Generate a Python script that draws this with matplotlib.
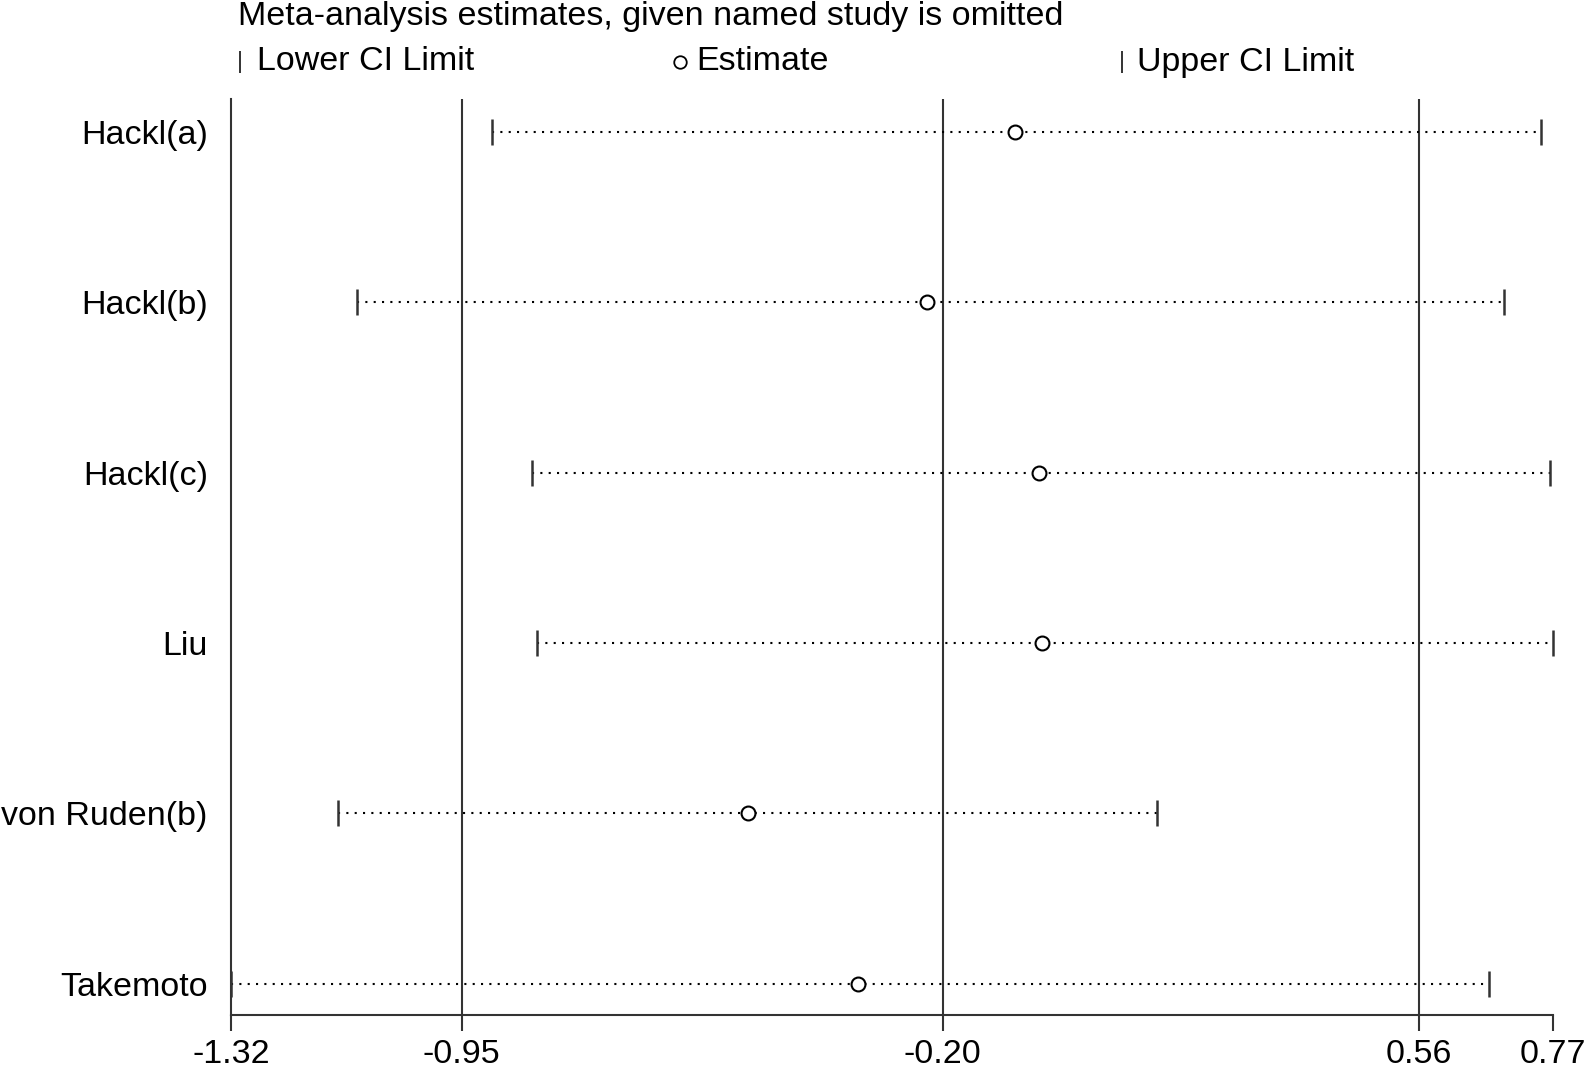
import numpy as np
import matplotlib.pyplot as plt
from matplotlib.lines import Line2D

plt.rcParams['font.family'] = ['Liberation Sans', 'DejaVu Sans']

studies = ['Hackl(a)', 'Hackl(b)', 'Hackl(c)', 'Liu', 'von Ruden(b)', 'Takemoto']
estimate = [-0.081, -0.219, -0.042, -0.038, -0.503, -0.329]
lower = [-0.908, -1.122, -0.844, -0.837, -1.151, -1.32]
upper = [0.752, 0.693, 0.766, 0.77, 0.144, 0.670]
# unrounded positions of the reference lines / ticks
ref_lines = [-0.956, -0.195, 0.559]
xticks = [-1.32, -0.956, -0.195, 0.559, 0.77]
xtick_labels = ['-1.32', '-0.95', '-0.20', '0.56', '0.77']

fs = 24.5
dark = '#333333'

fig = plt.figure(figsize=(15.94, 10.68), dpi=100)
ax = fig.add_axes([0.1452, 0.050, 0.974 - 0.1452, 0.907 - 0.050])

for x in ref_lines:
    ax.axvline(x, color=dark, lw=1.5, zorder=1)

y = np.arange(len(studies))
for i in range(len(studies)):
    ax.plot([lower[i], upper[i]], [y[i], y[i]], color='black', lw=1.5,
            linestyle=(0, (1, 3)), zorder=2)
    ax.plot([lower[i], upper[i]], [y[i], y[i]], linestyle='none', marker='|',
            markersize=19, mew=1.8, color=dark, clip_on=False, zorder=3)
    ax.plot(estimate[i], y[i], marker='o', markersize=10, mfc='white',
            mec='black', mew=1.5, linestyle='none', zorder=4)

ax.set_xlim(-1.32, 0.77)
ax.set_ylim(5.18, -0.19)
ax.set_xticks(xticks)
ax.set_xticklabels(xtick_labels, fontsize=fs)
ax.set_yticks(y)
ax.set_yticklabels(studies, fontsize=fs)
ax.tick_params(axis='y', length=0, pad=17)
ax.tick_params(axis='x', length=11.5, width=1.5, color=dark, pad=6)
for s in ['top', 'right']:
    ax.spines[s].set_visible(False)
for s in ['left', 'bottom']:
    ax.spines[s].set_color(dark)
    ax.spines[s].set_linewidth(1.5)

# header and legend row
fig.text(238 / 1594, 1 - 16 / 1068, 'Meta-analysis estimates, given named study is omitted',
         fontsize=fs, va='center', ha='left')
ly = 1 - 62 / 1068
fig.add_artist(Line2D([240 / 1594], [ly], marker='|', markersize=16, mew=1.4,
                      color=dark, linestyle='none'))
fig.text(257 / 1594, ly, 'Lower CI Limit', fontsize=fs, va='center', ha='left')
fig.add_artist(Line2D([680 / 1594], [ly], marker='o', markersize=9, mfc='white',
                      mec='black', mew=1.3, linestyle='none'))
fig.text(696 / 1594, ly, 'Estimate', fontsize=fs, va='center', ha='left')
fig.add_artist(Line2D([1122 / 1594], [ly], marker='|', markersize=16, mew=1.4,
                      color=dark, linestyle='none'))
fig.text(1137 / 1594, ly, 'Upper CI Limit', fontsize=fs, va='center', ha='left')

fig.savefig('out.png', dpi=100)
